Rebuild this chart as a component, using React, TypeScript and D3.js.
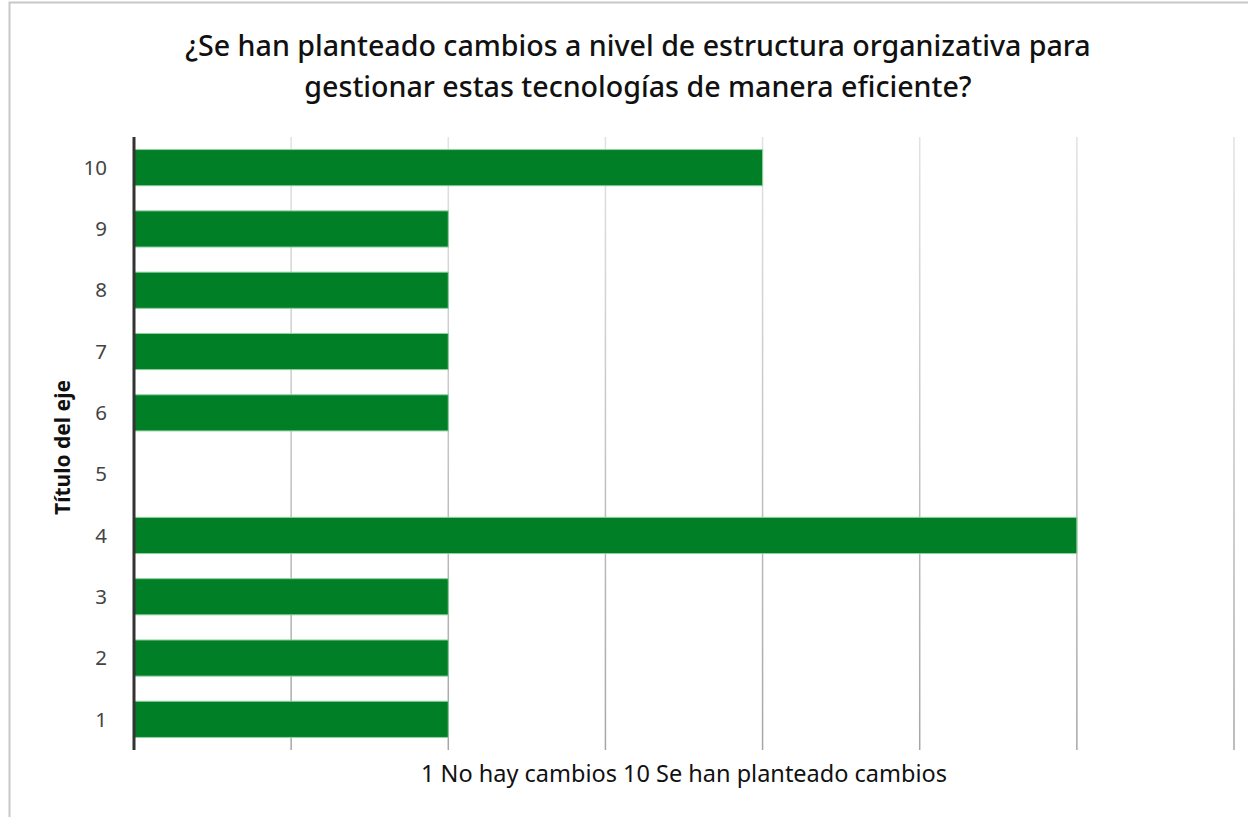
import React from "react";
import * as d3 from "d3";

const categories = ["1", "2", "3", "4", "5", "6", "7", "8", "9", "10"];
const values = [2, 2, 2, 6, 0, 2, 2, 2, 2, 4];
const xTicks = [0, 1, 2, 3, 4, 5, 6, 7];
const titleLines = [
  "¿Se han planteado cambios a nivel de estructura organizativa para",
  "gestionar estas tecnologías de manera eficiente?",
];
const xAxisTitle = "1 No hay cambios 10 Se han planteado cambios";
const yAxisTitle = "Título del eje";

const W = 1248;
const H = 817;
const plot = { left: 134, right: 1234, top: 137, bottom: 750 };
const FONT = "'Noto Sans', 'Open Sans', sans-serif";

export default function App() {
  const x = d3.scaleLinear().domain([0, 7]).range([plot.left, plot.right]);
  const y = d3
    .scaleBand<string>()
    .domain([...categories].reverse())
    .range([plot.top, plot.bottom])
    .paddingInner(0.41)
    .paddingOuter(0.205);

  return (
    <div style={{ position: "absolute", left: 0, top: 0 }}>
      <svg width={W} height={H} style={{ display: "block", background: "#fff" }}>
        <defs>
          <linearGradient id="gridGrad" gradientUnits="userSpaceOnUse" x1="0" y1={plot.top} x2="0" y2={plot.bottom}>
            <stop offset="0" stopColor="#e2e2e2" />
            <stop offset="1" stopColor="#a6a6a6" />
          </linearGradient>
        </defs>
        <rect x={9.5} y={2.5} width={W + 10} height={H + 10} fill="#fff" stroke="#c8c8c8" strokeWidth={2} />
        {titleLines.map((t, i) => (
          <text
            key={i}
            x={638}
            y={56 + i * 41}
            textAnchor="middle"
            fontFamily={FONT}
            fontSize={28.6}
            fontWeight={500}
            fill="#111"
          >
            {t}
          </text>
        ))}
        {xTicks.slice(1).map((t) => (
          <line key={t} x1={x(t)} x2={x(t)} y1={plot.top} y2={plot.bottom} stroke="url(#gridGrad)" strokeWidth={1.5} />
        ))}
        {categories.map((c, i) => (
          <rect
            key={c}
            x={x(0)}
            y={y(c)!}
            width={x(values[i]) - x(0)}
            height={y.bandwidth()}
            fill="#007f27"
            stroke="#8fd19f"
            strokeWidth={values[i] > 0 ? 1 : 0}
          />
        ))}
        <line x1={plot.left} x2={plot.left} y1={plot.top} y2={plot.bottom} stroke="#333" strokeWidth={3} />
        {categories.map((c) => (
          <text
            key={c}
            x={107}
            y={y(c)! + y.bandwidth() / 2}
            dy="0.35em"
            textAnchor="end"
            fontFamily={FONT}
            fontSize={20.5}
            fill="#444"
          >
            {c}
          </text>
        ))}
        <text x={684} y={782} textAnchor="middle" fontFamily={FONT} fontSize={23.5} fill="#111">
          {xAxisTitle}
        </text>
        <text
          transform={`translate(70, ${(plot.top + plot.bottom) / 2 + 4}) rotate(-90)`}
          textAnchor="middle"
          fontFamily={FONT}
          fontSize={21}
          fontWeight="bold"
          fill="#111"
        >
          {yAxisTitle}
        </text>
      </svg>
    </div>
  );
}
